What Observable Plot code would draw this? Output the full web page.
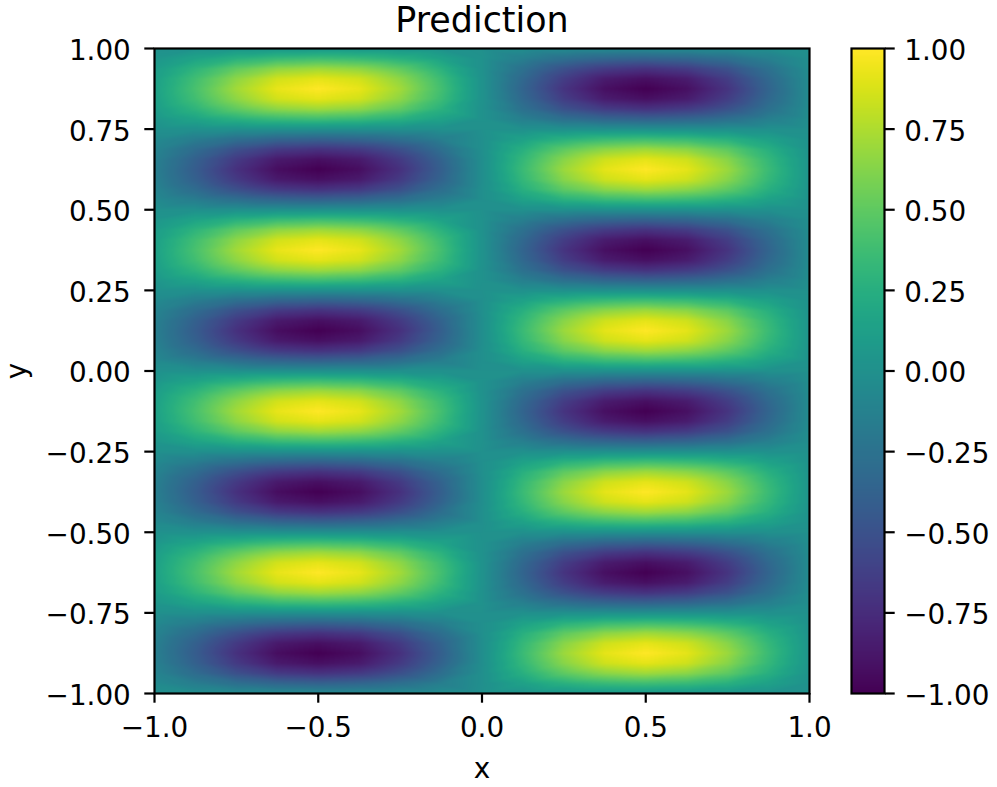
<!DOCTYPE html>
<html><head><meta charset="utf-8">
<script src="https://cdn.jsdelivr.net/npm/d3@7"></script>
<script src="https://cdn.jsdelivr.net/npm/@observablehq/plot@0.6"></script>
<style>html,body{margin:0;padding:0;background:#fff}#wrap{position:relative;width:997px;height:787px}#wrap svg{position:absolute;left:0;top:0;max-width:none}</style>
</head><body><div id="wrap"></div>
<script>
const xGrid = [-1,-.875,-.75,-.625,-.5,-.375,-.25,-.125,0,.125,.25,.375,.5,.625,.75,.875,1];
const yGrid = [1,.96875,.9375,.90625,.875,.84375,.8125,.78125,.75,.71875,.6875,.65625,.625,.59375,.5625,.53125,.5,.46875,.4375,.40625,.375,.34375,.3125,.28125,.25,.21875,.1875,.15625,.125,.09375,.0625,.03125,0,-.03125,-.0625,-.09375,-.125,-.15625,-.1875,-.21875,-.25,-.28125,-.3125,-.34375,-.375,-.40625,-.4375,-.46875,-.5,-.53125,-.5625,-.59375,-.625,-.65625,-.6875,-.71875,-.75,-.78125,-.8125,-.84375,-.875,-.90625,-.9375,-.96875,-1];
// one row per yGrid entry, one column per xGrid entry
const predictionRows = [
[.01,.02,.04,.05,.05,.05,.04,.02,0,-.02,-.04,-.05,-.05,-.05,-.04,-.02,0],
[.05,.16,.27,.35,.38,.35,.27,.15,.01,-.14,-.27,-.35,-.38,-.35,-.27,-.14,-.02],
[.10,.30,.51,.66,.71,.66,.51,.28,.01,-.26,-.50,-.65,-.71,-.65,-.50,-.26,-.03],
[.13,.39,.66,.86,.92,.86,.66,.37,.02,-.33,-.64,-.85,-.92,-.85,-.64,-.33,-.04],
[.14,.42,.72,.93,1,.93,.72,.40,.02,-.36,-.70,-.92,-1,-.92,-.70,-.36,-.04],
[.13,.39,.66,.86,.92,.86,.66,.37,.02,-.33,-.64,-.85,-.92,-.85,-.64,-.33,-.04],
[.10,.30,.51,.66,.71,.66,.51,.28,.01,-.26,-.50,-.65,-.71,-.65,-.50,-.26,-.03],
[.05,.16,.27,.35,.38,.35,.27,.15,.01,-.14,-.27,-.35,-.38,-.35,-.27,-.14,-.02],
[0,0,0,0,0,0,0,0,0,0,0,0,0,0,0,0,0],
[-.05,-.16,-.27,-.35,-.38,-.35,-.27,-.15,-.01,.14,.27,.35,.38,.35,.27,.14,.02],
[-.10,-.30,-.51,-.66,-.71,-.66,-.51,-.28,-.01,.26,.50,.65,.71,.65,.50,.26,.03],
[-.13,-.39,-.66,-.86,-.92,-.86,-.66,-.37,-.02,.33,.64,.85,.92,.85,.64,.33,.04],
[-.14,-.42,-.72,-.93,-1,-.93,-.72,-.40,-.02,.36,.70,.92,1,.92,.70,.36,.04],
[-.13,-.39,-.66,-.86,-.92,-.86,-.66,-.37,-.02,.33,.64,.85,.92,.85,.64,.33,.04],
[-.10,-.30,-.51,-.66,-.71,-.66,-.51,-.28,-.01,.26,.50,.65,.71,.65,.50,.26,.03],
[-.05,-.16,-.27,-.35,-.38,-.35,-.27,-.15,-.01,.14,.27,.35,.38,.35,.27,.14,.02],
[0,0,0,0,0,0,0,0,0,0,0,0,0,0,0,0,0],
[.05,.16,.27,.35,.38,.35,.27,.15,.01,-.14,-.27,-.35,-.38,-.35,-.27,-.14,-.02],
[.10,.30,.51,.66,.71,.66,.51,.28,.01,-.26,-.50,-.65,-.71,-.65,-.50,-.26,-.03],
[.13,.39,.66,.86,.92,.86,.66,.37,.02,-.33,-.64,-.85,-.92,-.85,-.64,-.33,-.04],
[.14,.42,.72,.93,1,.93,.72,.40,.02,-.36,-.70,-.92,-1,-.92,-.70,-.36,-.04],
[.13,.39,.66,.86,.92,.86,.66,.37,.02,-.33,-.64,-.85,-.92,-.85,-.64,-.33,-.04],
[.10,.30,.51,.66,.71,.66,.51,.28,.01,-.26,-.50,-.65,-.71,-.65,-.50,-.26,-.03],
[.05,.16,.27,.35,.38,.35,.27,.15,.01,-.14,-.27,-.35,-.38,-.35,-.27,-.14,-.02],
[0,0,0,0,0,0,0,0,0,0,0,0,0,0,0,0,0],
[-.05,-.16,-.27,-.35,-.38,-.35,-.27,-.15,-.01,.14,.27,.35,.38,.35,.27,.14,.02],
[-.10,-.30,-.51,-.66,-.71,-.66,-.51,-.28,-.01,.26,.50,.65,.71,.65,.50,.26,.03],
[-.13,-.39,-.66,-.86,-.92,-.86,-.66,-.37,-.02,.33,.64,.85,.92,.85,.64,.33,.04],
[-.14,-.42,-.72,-.93,-1,-.93,-.72,-.40,-.02,.36,.70,.92,1,.92,.70,.36,.04],
[-.13,-.39,-.66,-.86,-.92,-.86,-.66,-.37,-.02,.33,.64,.85,.92,.85,.64,.33,.04],
[-.10,-.30,-.51,-.66,-.71,-.66,-.51,-.28,-.01,.26,.50,.65,.71,.65,.50,.26,.03],
[-.05,-.16,-.27,-.35,-.38,-.35,-.27,-.15,-.01,.14,.27,.35,.38,.35,.27,.14,.02],
[0,0,0,0,0,0,0,0,0,0,0,0,0,0,0,0,0],
[.05,.16,.27,.35,.38,.35,.27,.15,.01,-.14,-.27,-.35,-.38,-.35,-.27,-.14,-.02],
[.10,.30,.51,.66,.71,.66,.51,.28,.01,-.26,-.50,-.65,-.71,-.65,-.50,-.26,-.03],
[.13,.39,.66,.86,.92,.86,.66,.37,.02,-.33,-.64,-.85,-.92,-.85,-.64,-.33,-.04],
[.14,.42,.72,.93,1,.93,.72,.40,.02,-.36,-.70,-.92,-1,-.92,-.70,-.36,-.04],
[.13,.39,.66,.86,.92,.86,.66,.37,.02,-.33,-.64,-.85,-.92,-.85,-.64,-.33,-.04],
[.10,.30,.51,.66,.71,.66,.51,.28,.01,-.26,-.50,-.65,-.71,-.65,-.50,-.26,-.03],
[.05,.16,.27,.35,.38,.35,.27,.15,.01,-.14,-.27,-.35,-.38,-.35,-.27,-.14,-.02],
[0,0,0,0,0,0,0,0,0,0,0,0,0,0,0,0,0],
[-.05,-.16,-.27,-.35,-.38,-.35,-.27,-.15,-.01,.14,.27,.35,.38,.35,.27,.14,.02],
[-.10,-.30,-.51,-.66,-.71,-.66,-.51,-.28,-.01,.26,.50,.65,.71,.65,.50,.26,.03],
[-.13,-.39,-.66,-.86,-.92,-.86,-.66,-.37,-.02,.33,.64,.85,.92,.85,.64,.33,.04],
[-.14,-.42,-.72,-.93,-1,-.93,-.72,-.40,-.02,.36,.70,.92,1,.92,.70,.36,.04],
[-.13,-.39,-.66,-.86,-.92,-.86,-.66,-.37,-.02,.33,.64,.85,.92,.85,.64,.33,.04],
[-.10,-.30,-.51,-.66,-.71,-.66,-.51,-.28,-.01,.26,.50,.65,.71,.65,.50,.26,.03],
[-.05,-.16,-.27,-.35,-.38,-.35,-.27,-.15,-.01,.14,.27,.35,.38,.35,.27,.14,.02],
[0,0,0,0,0,0,0,0,0,0,0,0,0,0,0,0,0],
[.05,.16,.27,.35,.38,.35,.27,.15,.01,-.14,-.27,-.35,-.38,-.35,-.27,-.14,-.02],
[.10,.30,.51,.66,.71,.66,.51,.28,.01,-.26,-.50,-.65,-.71,-.65,-.50,-.26,-.03],
[.13,.39,.66,.86,.92,.86,.66,.37,.02,-.33,-.64,-.85,-.92,-.85,-.64,-.33,-.04],
[.14,.42,.72,.93,1,.93,.72,.40,.02,-.36,-.70,-.92,-1,-.92,-.70,-.36,-.04],
[.13,.39,.66,.86,.92,.86,.66,.37,.02,-.33,-.64,-.85,-.92,-.85,-.64,-.33,-.04],
[.10,.30,.51,.66,.71,.66,.51,.28,.01,-.26,-.50,-.65,-.71,-.65,-.50,-.26,-.03],
[.05,.16,.27,.35,.38,.35,.27,.15,.01,-.14,-.27,-.35,-.38,-.35,-.27,-.14,-.02],
[0,0,0,0,0,0,0,0,0,0,0,0,0,0,0,0,0],
[-.05,-.16,-.27,-.35,-.38,-.35,-.27,-.15,-.01,.14,.27,.35,.38,.35,.27,.14,.02],
[-.10,-.30,-.51,-.66,-.71,-.66,-.51,-.28,-.01,.26,.50,.65,.71,.65,.50,.26,.03],
[-.13,-.39,-.66,-.86,-.92,-.86,-.66,-.37,-.02,.33,.64,.85,.92,.85,.64,.33,.04],
[-.14,-.42,-.72,-.93,-1,-.93,-.72,-.40,-.02,.36,.70,.92,1,.92,.70,.36,.04],
[-.13,-.39,-.66,-.86,-.92,-.86,-.66,-.37,-.02,.33,.64,.85,.92,.85,.64,.33,.04],
[-.10,-.30,-.51,-.66,-.71,-.66,-.51,-.28,-.01,.26,.50,.65,.71,.65,.50,.26,.03],
[-.05,-.16,-.27,-.35,-.38,-.35,-.27,-.15,-.01,.14,.27,.35,.38,.35,.27,.14,.02],
[-.01,-.02,-.04,-.05,-.05,-.05,-.04,-.02,0,.02,.04,.05,.05,.05,.04,.02,0]
];
const xTicks = [-1,-.5,0,.5,1];
const yTicks = [-1,-.75,-.5,-.25,0,.25,.5,.75,1];
const titleText = "Prediction";
const colorbarStops = d3.range(0,257).map(i=>1-i/128);

const table = yGrid.flatMap((y,i)=>xGrid.map((x,j)=>({x,y,z:predictionRows[i][j]})));
const fmt2 = d3.format(".2f"), fmt1 = d3.format(".1f");
const font = {fontFamily:"'DejaVu Sans'",fontSize:"27.8px",color:"#000",background:"transparent",overflow:"visible"};
const colorScale = {type:"linear",scheme:"viridis",domain:[-1,1]};
const tickOnly = {tickFormat:()=>"",tickSize:9.7,strokeWidth:2.2,label:null};
const main = Plot.plot({
  width:997,height:787,marginLeft:154,marginRight:188,marginTop:48,marginBottom:94,
  style:font,
  x:{domain:[-1,1]},y:{domain:[-1,1]},color:colorScale,
  marks:[
    Plot.raster(table,{x:"x",y:"y",fill:"z",interpolate:"barycentric",pixelSize:1}),
    Plot.frame({stroke:"#000",strokeWidth:2.2}),
    Plot.axisX({ticks:xTicks,...tickOnly}),
    Plot.axisY({ticks:yTicks,...tickOnly}),
    Plot.axisX({ticks:xTicks,tickFormat:fmt1,tickSize:0,tickPadding:23.7,label:"x",labelAnchor:"center",labelArrow:"none",labelOffset:84}),
    Plot.axisY({ticks:yTicks,tickFormat:fmt2,tickSize:0,tickPadding:23.7,dy:2.5,label:"y",labelAnchor:"center",labelArrow:"none",labelOffset:148}),
    Plot.text([titleText],{frameAnchor:"top",dy:-28,fontSize:34.9,lineAnchor:"middle"})
  ]
});
const bar = Plot.plot({
  width:997,height:787,marginLeft:851,marginRight:113,marginTop:48,marginBottom:94,
  style:font,
  x:{domain:[0,1],axis:null},y:{domain:[-1,1]},color:colorScale,
  marks:[
    Plot.raster(colorbarStops,{width:1,height:colorbarStops.length,x1:0,x2:1,y1:1,y2:-1,imageRendering:"auto"}),
    Plot.frame({stroke:"#000",strokeWidth:2.2}),
    Plot.axisY({anchor:"right",ticks:yTicks,...tickOnly}),
    Plot.axisY({anchor:"right",ticks:yTicks,tickFormat:fmt2,tickSize:0,tickPadding:19.7,dy:2.5,label:null})
  ]
});
document.getElementById("wrap").append(main,bar);
</script></body></html>
